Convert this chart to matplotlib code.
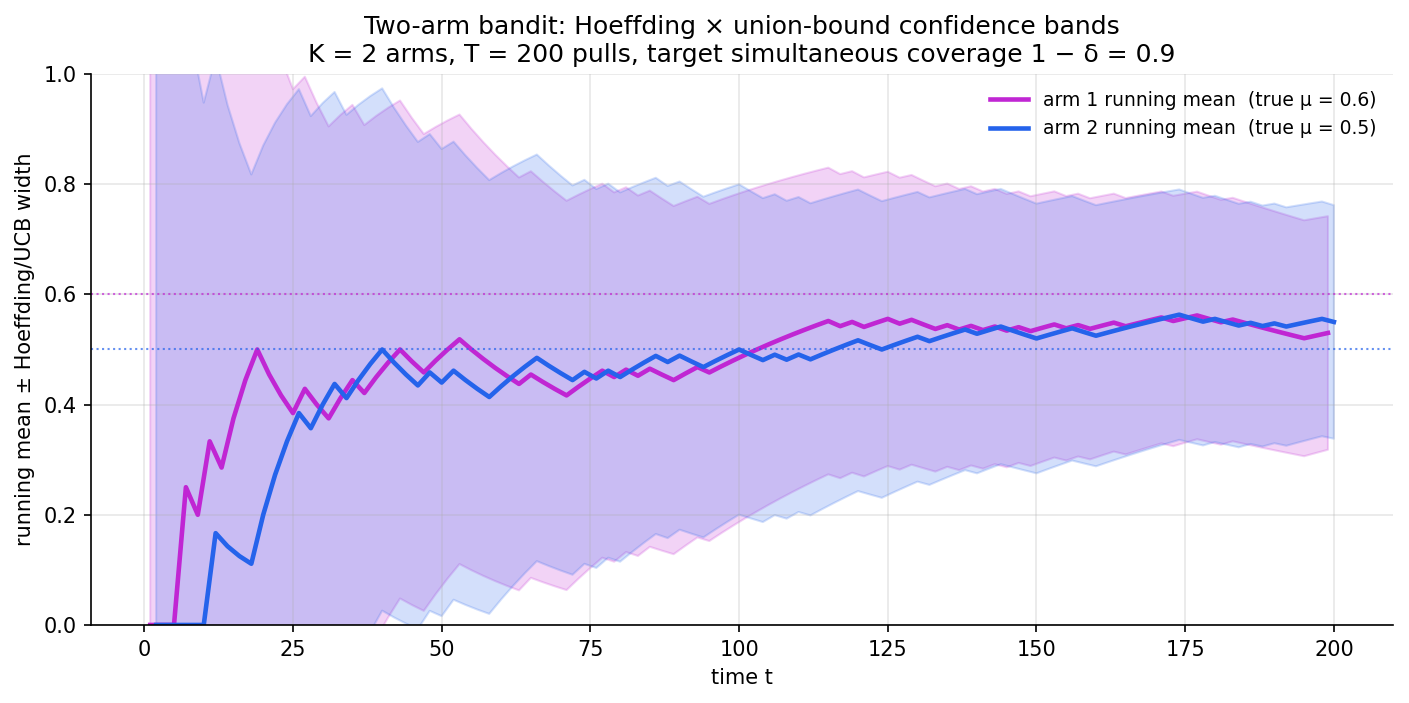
import numpy as np
import matplotlib
matplotlib.use("Agg")
from matplotlib import pyplot as plt

# bandit setup (from the title)
K = 2
T = 200
delta = 0.1

# round-robin pulls: arm 1 on odd steps, arm 2 on even steps
arm1_times = list(range(1, T + 1, 2))
arm2_times = list(range(2, T + 1, 2))

arm1_rewards = [0, 0, 0, 1, 0, 1, 0, 1, 1, 1,
                0, 0, 0, 1, 0, 0, 1, 1, 0, 1,
                1, 1, 0, 0, 1, 1, 1, 0, 0, 0,
                0, 0, 1, 0, 0, 0, 1, 1, 1, 0,
                1, 0, 1, 0, 0, 1, 1, 0, 1, 1,
                1, 1, 1, 1, 1, 1, 1, 1, 0, 1,
                0, 1, 1, 0, 1, 0, 0, 1, 0, 1,
                0, 1, 0, 1, 0, 1, 1, 0, 1, 0,
                1, 1, 0, 1, 1, 1, 0, 1, 1, 0,
                0, 1, 0, 0, 0, 0, 0, 0, 1, 1]
arm2_rewards = [0, 0, 0, 0, 0, 1, 0, 0, 0, 1,
                1, 1, 1, 0, 1, 1, 0, 1, 1, 1,
                0, 0, 0, 1, 0, 1, 0, 0, 0, 1,
                1, 1, 1, 0, 0, 0, 1, 0, 1, 0,
                1, 1, 1, 0, 1, 0, 0, 1, 1, 1,
                0, 0, 1, 0, 1, 0, 1, 1, 1, 1,
                0, 0, 1, 1, 1, 0, 1, 1, 1, 0,
                1, 1, 0, 0, 0, 1, 1, 1, 0, 0,
                1, 1, 1, 1, 1, 1, 1, 0, 0, 1,
                0, 0, 1, 0, 1, 0, 1, 1, 1, 0]

true_mu = [0.6, 0.5]
colors = ["#c026d3", "#2563eb"]

fig, ax = plt.subplots(figsize=(1409 / 150, 703 / 150), dpi=150)
fig.subplots_adjust(left=0.0646, right=0.9887, top=0.8947, bottom=0.111)

log_term = np.log(2 * K * T / delta)
arms = [(arm1_times, arm1_rewards), (arm2_times, arm2_rewards)]
for i, (times, rewards) in enumerate(arms):
    r = np.array(rewards, dtype=float)
    n = np.arange(1, len(r) + 1)
    mean = np.cumsum(r) / n
    width = np.sqrt(log_term / (2 * n))  # Hoeffding half-width with union bound
    ax.fill_between(times, mean - width, mean + width, color=colors[i], alpha=0.2)
    ax.plot(times, mean, color=colors[i], lw=2.2,
            label=f"arm {i + 1} running mean  (true \u03bc = {true_mu[i]})")
    ax.axhline(true_mu[i], color=colors[i], ls=":", lw=1, alpha=0.7)

ax.set_ylim(0, 1)
ax.set_xlabel("time t")
ax.set_ylabel("running mean \u00b1 Hoeffding/UCB width")
ax.set_title("Two-arm bandit: Hoeffding \u00d7 union-bound confidence bands\n"
             f"K = {K} arms, T = {T} pulls, target simultaneous coverage 1 \u2212 \u03b4 = {1 - delta:.1f}")
ax.grid(True, alpha=0.3)
ax.spines["top"].set_visible(False)
ax.spines["right"].set_visible(False)
ax.legend(loc="upper right", frameon=False, fontsize=9)

fig.savefig("out.png", dpi=150)
